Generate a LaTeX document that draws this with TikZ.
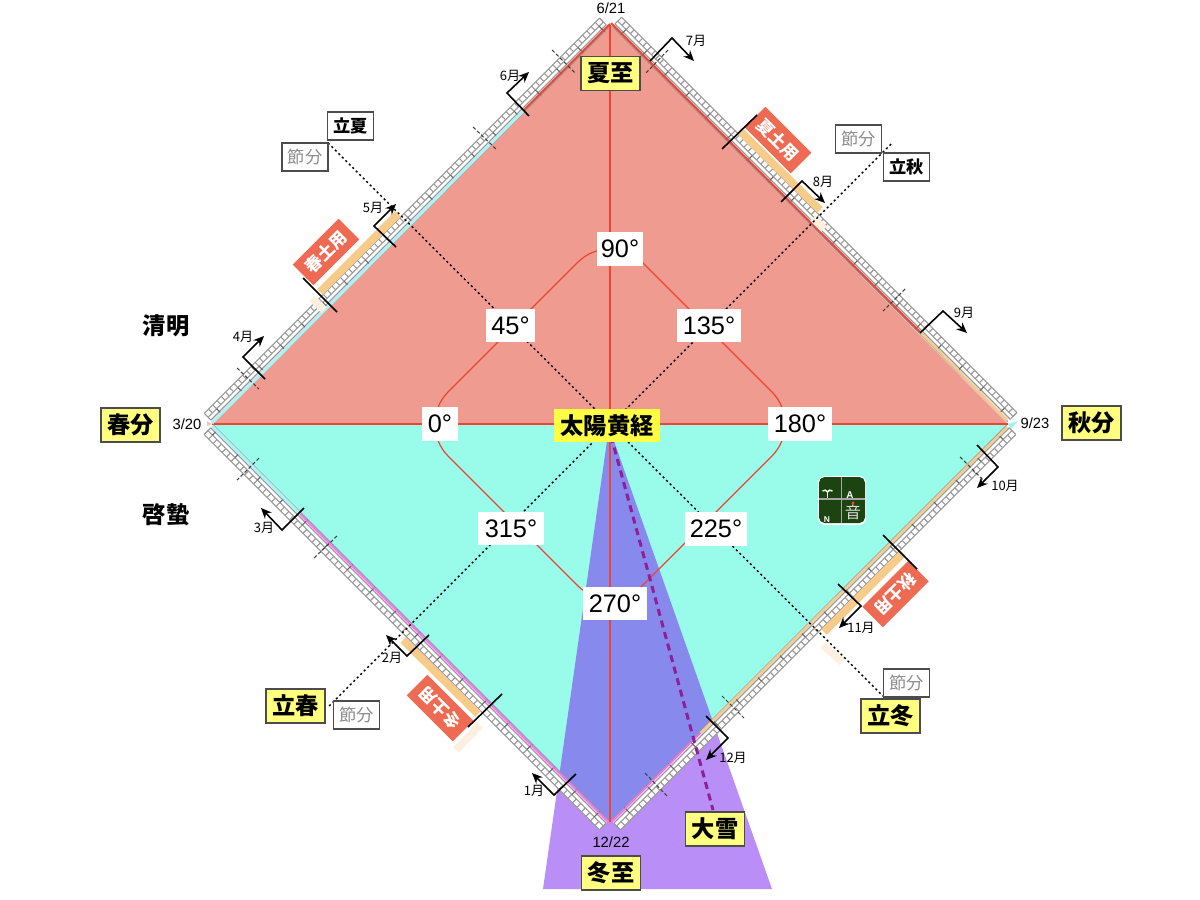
\documentclass[tikz,border=0pt]{standalone}
\usepackage{fontspec}
\setmainfont{Liberation Sans}
\newfontfamily\jp{Noto Sans CJK JP}
\usetikzlibrary{arrows.meta}
\definecolor{summerred}{HTML}{F09B8F}
\definecolor{wintercyan}{HTML}{99FBE9}
\definecolor{linered}{HTML}{EE4433}
\definecolor{conepurple}{HTML}{B98EF6}
\definecolor{coneblue}{HTML}{8889EC}
\definecolor{dashpurple}{HTML}{8E1F94}
\definecolor{bandorange}{HTML}{F7CB8A}
\definecolor{paleorange}{HTML}{FDF0E1}
\definecolor{stripecyan}{HTML}{AEF2F5}
\definecolor{stripemagenta}{HTML}{FF66FF}
\definecolor{labelyellow}{HTML}{FFFF80}
\definecolor{sunyellow}{HTML}{FFFF44}
\definecolor{flagred}{HTML}{EE6A52}
\definecolor{logogreen}{HTML}{1C4410}
\tikzset{
    yellowbox/.style={draw=black!70,line width=0.5pt,fill=labelyellow,minimum width=0.59cm,minimum height=0.34cm,inner sep=0pt,font=\jp\bfseries\fontsize{6.6}{7}\selectfont},
    whitebox/.style={draw=black!70,line width=0.4pt,fill=white,minimum width=0.46cm,minimum height=0.28cm,inner sep=0pt,font=\jp\bfseries\fontsize{4.9}{5}\selectfont},
    graybox/.style={whitebox,text=black!45,font=\jp\fontsize{4.9}{5}\selectfont},
    flagbox/.style={fill=flagred,text=white,minimum width=0.65cm,minimum height=0.29cm,inner sep=0pt,font=\jp\bfseries\fontsize{4.8}{5}\selectfont},
    anglebox/.style={fill=white,minimum height=0.33cm,inner sep=0pt,font=\fontsize{7.2}{8}\selectfont},
    monthlabel/.style={inner sep=0pt,font=\jp\fontsize{3.7}{4}\selectfont},
    datelabel/.style={inner sep=0pt,font=\fontsize{4.2}{5}\selectfont},
    sidelabel/.style={inner sep=0pt,font=\jp\bfseries\fontsize{6.6}{7}\selectfont},
    montharrow/.style={line width=0.45pt,-{Stealth[length=3pt,width=2.6pt]}},
    monthtick/.style={line width=0.45pt},
    setsutick/.style={line width=0.3pt,black!75,dash pattern=on 1pt off 0.6pt},
    dotline/.style={line width=0.4pt,dash pattern=on 0.6pt off 0.8pt},
    ladderline/.style={line width=0.33pt,black!40},
    stripe/.style={line width=0.55pt},
    band/.style={line width=0.078cm,bandorange},
    paleband/.style={line width=0.078cm,paleorange}
}
% Bande des jours le long d'un cote : origine, angle, nombre de cases
\newcommand{\ladder}[4]{%
    \begin{scope}[shift={(#1,#2)},rotate=#3]
        \pgfmathsetmacro{\cellw}{559/#4}
        \fill[white] (2,-13) rectangle (561,0);
        \draw[ladderline] (2,0) -- (561,0);
        \draw[ladderline] (2,-3.5) -- (561,-3.5);
        \draw[ladderline] (2,-7.5) -- (561,-7.5);
        \draw[ladderline] (2,-13) -- (561,-13);
        \draw[ladderline] (2,-3.5) -- (2,-13);
        \draw[ladderline] (561,-3.5) -- (561,-13);
        \foreach \k in {1,...,#4} {
            \draw[ladderline] ({2+\k*\cellw},-7.5) -- ({2+\k*\cellw},-13);}
        \foreach \k in {2,7,...,#4} {
            \draw[line width=0.3pt,black!60] ({2+\k*\cellw},0) -- ({2+\k*\cellw},-7.5);}
    \end{scope}}
\begin{document}
\begin{tikzpicture}[x=0.01cm,y=-0.01cm]
    \useasboundingbox (0,0) rectangle (1200,900);
    % Cone du grand vent de neige
    \fill[conepurple] (609,427) -- (772,889) -- (543,889) -- cycle;
    % Triangles
    \fill[summerred] (212,424) -- (611,25) -- (1008,424) -- cycle;
    \fill[wintercyan] (212,424) -- (1008,424) -- (610,822) -- cycle;
    \begin{scope}
        \clip (212,424) -- (1008,424) -- (610,822) -- cycle; % Limiter au triangle bas
        \fill[coneblue] (609,427) -- (772,889) -- (543,889) -- cycle;
    \end{scope}
    % Pointes aux sommets
    \fill[wintercyan] (1008,424) -- (1018,421) -- (1011,429) -- cycle;
    \fill[summerred!60] (212,424) -- (207,421) -- (207,426) -- cycle;
    % Axes
    \draw[linered,line width=0.75pt] (212,424) -- (1008,424);
    \draw[linered,line width=0.75pt] (610,25) -- (610,822);
    % Losange arrondi des longitudes
    \draw[linered,line width=0.35pt,rounded corners=13pt] (520,320) -- (610,230) -- (804,424) -- (610,618) -- (416,424) -- cycle;
    % Bandes des jours
    \ladder{212}{424}{45}{93}
    \ladder{611}{25}{-45}{94}
    \ladder{1008}{424}{225}{90}
    \ladder{610}{822}{135}{88}
    % Filets de couleur sur les cotes
    \draw[stripe,linered] (610,24) -- (523.5,110.5);
    \draw[stripe,stripecyan,line width=0.9pt] (523.5,110.5) -- (212,423);
    \draw[stripe,linered] (611,23) -- (920,332);
    \draw[stripe,bandorange,line width=0.7pt] (920,332) -- (1007,420);
    \draw[stripe,bandorange,line width=0.7pt] (1007,427) -- (700.5,733);
    \draw[stripe,stripemagenta,line width=0.45pt] (700.5,733) -- (611,823);
    \draw[stripe,stripecyan,line width=0.9pt] (212,426) -- (300,514);
    \draw[stripe,stripemagenta,line width=0.45pt] (300,514) -- (608,822);
    % Doyo
    \draw[band] (320,292) -- (398,214);
    \draw[band] (740,131) -- (820,210);
    \draw[band] (903,553) -- (824,632);
    \draw[band] (403,640) -- (478,714);
    \draw[paleband] (312,298) -- (324,310);
    \draw[paleband] (813,218) -- (824,229);
    \draw[paleband] (823,645) -- (842,662);
    \draw[paleband] (480,725) -- (456,750);
    % Lignes des passages
    \draw[dotline] (328,143) -- (884,697);
    \draw[dotline] (891,144) -- (329,706);
    \draw[dashpurple,line width=0.85pt,dash pattern=on 2pt off 1.4pt] (611,436) -- (713,810);
    % Graduations des sections
    \draw[setsutick] (552,50) -- (575,73);
    \draw[setsutick] (473,127) -- (496,149);
    \draw[setsutick] (237,368) -- (259,389);
    \draw[setsutick] (668,50) -- (646,73);
    \draw[setsutick] (905,289) -- (883,311);
    \draw[setsutick] (960,457) -- (983,480);
    \draw[setsutick] (722,696) -- (744,718);
    \draw[setsutick] (645,773) -- (667,796);
    \draw[setsutick] (575,774) -- (555,795);
    \draw[setsutick] (337,536) -- (314,558);
    \draw[setsutick] (259,458) -- (237,480);
    % Mois
    \draw[montharrow] (265,379) -- (243,357) -- (264,336);
    \draw[montharrow] (396,247) -- (374,226) -- (396,204);
    \draw[montharrow] (529,116) -- (507,93) -- (529,72);
    \draw[montharrow] (650,61) -- (672,38) -- (694,61);
    \draw[montharrow] (781,202) -- (802,181) -- (825,203);
    \draw[montharrow] (920,333) -- (943,311) -- (967,333);
    \draw[montharrow] (977,445) -- (998,467) -- (977,488);
    \draw[montharrow] (838,584) -- (861,606) -- (839,628);
    \draw[montharrow] (706,716) -- (728,738) -- (706,760);
    \draw[montharrow] (576,774) -- (554,795) -- (532,773);
    \draw[montharrow] (429,635) -- (407,656) -- (386,635);
    \draw[montharrow] (304,508) -- (282,530) -- (261,508);
    \node[monthlabel] (m4) at (243,337) {4月};
    \node[monthlabel] (m5) at (373,208) {5月};
    \node[monthlabel] (m6) at (510,76) {6月};
    \node[monthlabel] (m7) at (696,41) {7月};
    \node[monthlabel] (m8) at (823,182) {8月};
    \node[monthlabel] (m9) at (964,313) {9月};
    \node[monthlabel] (m10) at (1005,486) {10月};
    \node[monthlabel] (m11) at (861,628) {11月};
    \node[monthlabel] (m12) at (733,758) {12月};
    \node[monthlabel] (m1) at (534,791) {1月};
    \node[monthlabel] (m2) at (392,658) {2月};
    \node[monthlabel] (m3) at (264,528) {3月};
    % Drapeaux
    \node[flagbox,rotate=45] (springdoyo) at (326,252) {春土用};
    \node[flagbox,rotate=-45] (summerdoyo) at (778,140) {夏土用};
    \node[flagbox,rotate=225] (autumndoyo) at (895.5,594) {秋土用};
    \node[flagbox,rotate=135] (winterdoyo) at (440,708) {冬土用};
    \draw[monthtick] (337,312) -- (303,278);
    \draw[monthtick] (722,149) -- (757,115);
    \draw[monthtick] (883,535) -- (917,569);
    \draw[monthtick] (502,694) -- (468,727);
    % Angles
    \node[anglebox,minimum width=0.46cm] (a90) at (620,249) {90°};
    \node[anglebox,minimum width=0.49cm] (a45) at (510.5,325.5) {45°};
    \node[anglebox,minimum width=0.64cm] (a135) at (709,325.5) {135°};
    \node[anglebox,minimum width=0.36cm] (a0) at (440,424) {0°};
    \node[anglebox,minimum width=0.64cm] (a180) at (800,424) {180°};
    \node[anglebox,minimum width=0.66cm] (a315) at (511,528.5) {315°};
    \node[anglebox,minimum width=0.62cm] (a225) at (716,529) {225°};
    \node[anglebox,minimum width=0.64cm] (a270) at (615,603.5) {270°};
    % Saisons
    \node[yellowbox] (summer) at (610.5,73.5) {夏至};
    \node[yellowbox] (spring) at (130.5,425) {春分};
    \node[yellowbox] (autumn) at (1091.5,423) {秋分};
    \node[yellowbox] (winter) at (611,873) {冬至};
    \node[yellowbox] (snow) at (715,829) {大雪};
    \node[yellowbox] (springstart) at (295.5,706) {立春};
    \node[yellowbox] (winterstart) at (890.5,716) {立冬};
    \node[fill=sunyellow,minimum width=1.05cm,minimum height=0.33cm,inner sep=0pt,font=\jp\bfseries\fontsize{6.6}{7}\selectfont] (sun) at (607,425.5) {太陽黄経};
    % Setsubun
    \node[whitebox] (summerstart) at (350.5,126) {立夏};
    \node[graybox] (setsubuna) at (305,157) {節分};
    \node[graybox] (setsubunb) at (858.5,139) {節分};
    \node[whitebox] (autumnstart) at (906.5,167) {立秋};
    \node[graybox] (setsubunc) at (906.5,683) {節分};
    \node[graybox] (setsubund) at (356.5,715) {節分};
    % Textes
    \node[sidelabel] (qingming) at (166,326) {清明};
    \node[sidelabel] (jingzhe) at (166,515) {啓蟄};
    \node[datelabel] (june) at (611,8) {6/21};
    \node[datelabel] (march) at (187,424) {3/20};
    \node[datelabel] (september) at (1035,423) {9/23};
    \node[datelabel] (december) at (611,842) {12/22};
    % Logo
    \fill[white,rounded corners=2pt] (818,476) rectangle (866,525);
    \fill[logogreen,rounded corners=1.6pt] (819,477) rectangle (865,523);
    \draw[black!35,line width=0.3pt] (841.5,477) -- (841.5,523);
    \draw[black!35,line width=0.3pt] (819,499) -- (865,499);
    \draw[white,line width=0.4pt] (827.5,491) -- (827.5,498);
    \draw[white,line width=0.4pt] (822.5,491) .. controls (825,489.5) and (826,490) .. (827.5,492) .. controls (829,490) and (830,489.5) .. (832.5,491);
    \node[text=white,inner sep=0pt,font=\bfseries\fontsize{2.8}{3}\selectfont] (logoa) at (850,495) {A};
    \node[text=white,inner sep=0pt,font=\bfseries\fontsize{2.4}{3}\selectfont] (logon) at (827,519.5) {N};
    \node[text=black!15,inner sep=0pt,font=\jp\fontsize{4.6}{5}\selectfont] (logoon) at (853,512) {音};
    \fill[linered] (853,503) circle (1.6);
\end{tikzpicture}
\end{document}
